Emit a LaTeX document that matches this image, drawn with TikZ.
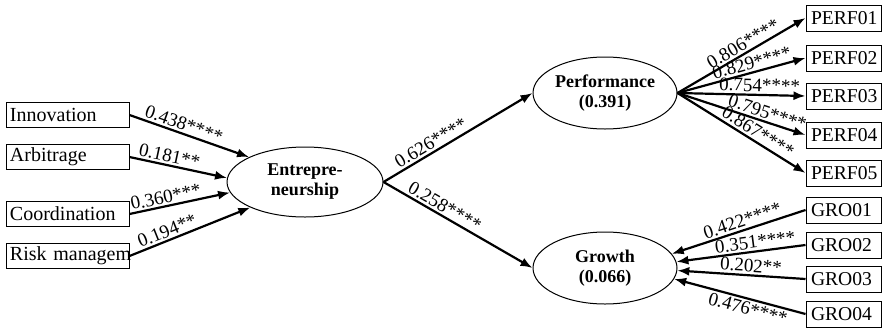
\documentclass[tikz,border=0pt]{standalone}
\usepackage{fontspec}
\setmainfont{Liberation Serif}
\usetikzlibrary{shapes.geometric, arrows.meta}

\begin{document}
\begin{tikzpicture}[x=0.5pt, y=-0.5pt,
	every node/.style={font=\fontsize{9.5}{10}\selectfont},
	dimbox/.style={draw, line width=0.5pt, minimum height=12.5pt, inner xsep=2pt, inner ysep=0pt, text width=57.5pt, align=left, font=\fontsize{10}{11}\selectfont},
	indbox/.style={draw, line width=0.5pt, minimum height=13pt, inner xsep=2.5pt, inner ysep=0pt, text width=32.5pt, align=left, font=\fontsize{9.8}{11}\selectfont},
	latent/.style={draw, ellipse, line width=0.5pt, inner xsep=-3pt, inner ysep=0pt, align=center, font=\fontsize{9}{10}\selectfont\bfseries},
	effect/.style={-{Latex[length=6pt, width=4.5pt]}, line width=1.1pt},
	coef/.style={sloped, inner sep=1pt}]
			\useasboundingbox (0, 0) rectangle (882, 327);
			
			%Dimensions
			\node[dimbox] (innov) at (67.5, 115) {Innovation};
			\node[dimbox] (arbit) at (67.5, 157) {Arbitrage};
			\node[dimbox] (coord) at (67.5, 214) {Coordination};
			\node[dimbox] (risk) at (67.5, 256) {\mbox{Risk managem}};
			
			%Constructs
			\node[latent, minimum width=78pt, minimum height=35pt] (entre) at (305, 182) {Entrepre-\\neurship};
			\node[latent, minimum width=72pt, minimum height=36pt] (perf) at (605, 93) {Performance\\(0.391)};
			\node[latent, minimum width=72pt, minimum height=36pt] (growth) at (605, 268) {Growth\\(0.066)};
			
			%Indicators
			\node[indbox] (perf1) at (843.5, 18) {PERF01};
			\node[indbox] (perf2) at (843.5, 58) {PERF02};
			\node[indbox] (perf3) at (843.5, 96) {PERF03};
			\node[indbox] (perf4) at (843.5, 135) {PERF04};
			\node[indbox] (perf5) at (843.5, 173) {PERF05};
			\node[indbox] (gro1) at (843.5, 210) {GRO01};
			\node[indbox] (gro2) at (843.5, 245) {GRO02};
			\node[indbox] (gro3) at (843.5, 279) {GRO03};
			\node[indbox] (gro4) at (843.5, 314) {GRO04};
			
			%Lines
			\draw[effect] (innov.east) -- node[coef, above, pos=0.43] {0.438****} (entre.156);
			\draw[effect] (arbit.east) -- node[coef, above, pos=0.39] {0.181**} (entre.177);
			\draw[effect] (coord.east) -- node[coef, above, pos=0.38] {0.360***} (entre.188);
			\draw[effect] (risk.east) -- node[coef, above, pos=0.34] {0.194**} (entre.205);
			
			\draw[effect] (entre.east) -- node[coef, above, pos=0.35] {0.626****} (perf.west);
			\draw[effect] (entre.east) -- node[coef, above, pos=0.38] {0.258****} (growth.west);
			
			\draw[effect] (perf.east) -- node[coef, above, pos=0.55] {0.806****} (perf1.west);
			\draw[effect] (perf.east) -- node[coef, above, pos=0.6] {0.829****} (perf2.west);
			\draw[effect] (perf.east) -- node[coef, above, pos=0.64] {0.754****} (perf3.west);
			\draw[effect] (perf.east) -- node[coef, above, pos=0.68] {0.795****} (perf4.west);
			\draw[effect] (perf.east) -- node[coef, above, pos=0.59] {0.867****} (perf5.west);
			
			\draw[effect] (gro1.west) -- node[coef, above, pos=0.45] {0.422****} (growth.12);
			\draw[effect] (gro2.west) -- node[coef, above, pos=0.38] {0.351****} (growth.5);
			\draw[effect] (gro3.west) -- node[coef, above, pos=0.43] {0.202**} (growth.-2);
			\draw[effect] (gro4.west) -- node[coef, below, pos=0.42] {0.476****} (growth.-9);
\end{tikzpicture}
\end{document}
